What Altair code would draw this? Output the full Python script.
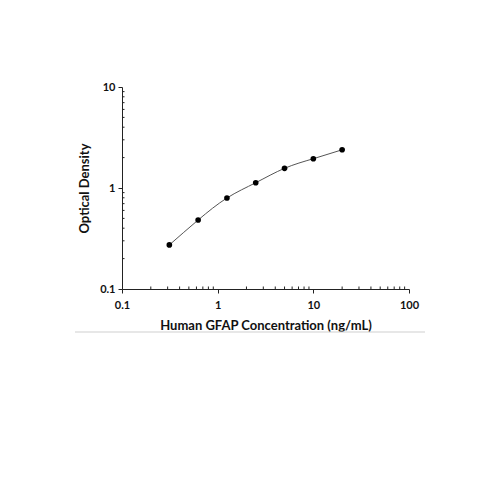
import altair as alt
import pandas as pd

conc = [0.3125, 0.625, 1.25, 2.5, 5, 10, 20]
od = [0.273, 0.482, 0.796, 1.128, 1.567, 1.95, 2.39]

x_major = [0.1, 1, 10, 100]
y_major = [0.1, 1, 10]
x_minor = [m * d for d in [0.1, 1, 10] for m in range(2, 10)]
y_minor = [m * d for d in [0.1, 1] for m in range(2, 10)]

W, H = 287, 202
FONT = "Lato"

df = pd.DataFrame({"conc": conc, "od": od})
dfx = pd.DataFrame({"v": x_minor})
dfy = pd.DataFrame({"v": y_minor})

xscale = alt.Scale(type="log", domain=[0.1, 100])
yscale = alt.Scale(type="log", domain=[0.1, 10])

xaxis = alt.Axis(values=x_major, format="~g", title="Human GFAP Concentration (ng/mL)",
                 grid=False, domainColor="#222", tickColor="#222", tickSize=4,
                 labelFont=FONT, labelFontWeight="bold", labelFontSize=11, labelColor="#111",
                 titleFont=FONT, titleFontWeight="bold", titleFontSize=13, titleColor="#111",
                 labelPadding=6, titlePadding=9, labelFlush=False)
yaxis = alt.Axis(values=y_major, format="~g", title="Optical Density",
                 grid=False, domainColor="#222", tickColor="#222", tickSize=4,
                 labelFont=FONT, labelFontWeight="bold", labelFontSize=11, labelColor="#111",
                 titleFont=FONT, titleFontWeight="bold", titleFontSize=13, titleColor="#111",
                 labelPadding=3, titlePadding=8, labelFlush=False)

line = alt.Chart(df).mark_line(color="#555", strokeWidth=1, interpolate="natural").encode(
    x=alt.X("conc:Q", scale=xscale, axis=xaxis),
    y=alt.Y("od:Q", scale=yscale, axis=yaxis),
)
pts = alt.Chart(df).mark_circle(color="#000", opacity=1, size=32).encode(
    x=alt.X("conc:Q", scale=xscale),
    y=alt.Y("od:Q", scale=yscale),
)
xmin = alt.Chart(dfx).mark_rule(color="#222", strokeWidth=1).encode(
    x=alt.X("v:Q", scale=xscale),
    y=alt.value(H), y2=alt.value(H - 2.5),
)
ymin = alt.Chart(dfy).mark_rule(color="#222", strokeWidth=1).encode(
    y=alt.Y("v:Q", scale=yscale),
    x=alt.value(0), x2=alt.value(2.5),
)
sep = alt.Chart(pd.DataFrame({"a": [0]})).mark_rule(color="#cfcfcf", strokeWidth=1).encode(
    x=alt.value(-47), x2=alt.value(303), y=alt.value(245)
)

chart = alt.layer(line, xmin, ymin, pts, sep).properties(
    width=W, height=H,
    background="white",
    autosize=alt.AutoSizeParams(type="none"),
    padding={"left": 114, "top": 79, "right": 70, "bottom": 180},
).configure_view(stroke=None, strokeWidth=0)

chart.save("out.html", embed_options={"renderer": "svg", "actions": False})
